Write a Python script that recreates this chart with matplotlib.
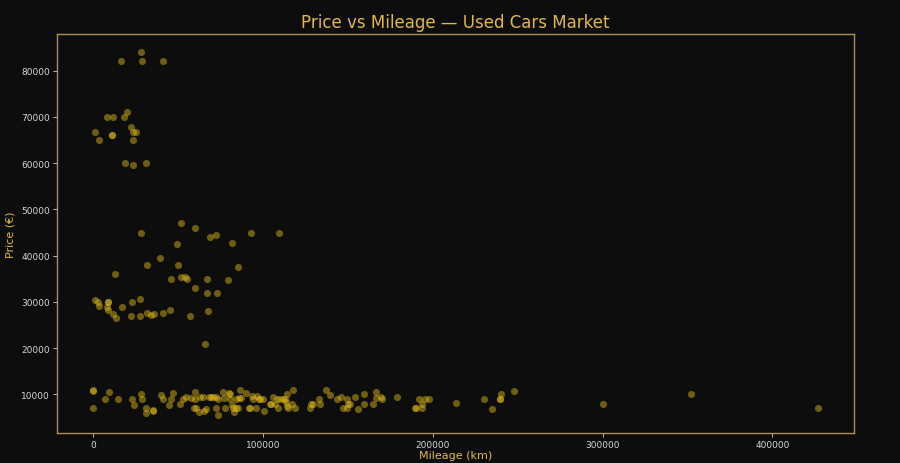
import numpy as np
import matplotlib
matplotlib.use("Agg")
import matplotlib.pyplot as plt

# values (mileage in km, price in EUR)
mileage_high = [16600, 28400, 29000, 40900,
                19700, 8100, 11700, 18000, 22300, 23500, 25000, 900, 3600, 11100, 11300, 23300,
                18700, 23300, 31100]
price_high = [82000, 84000, 82000, 82000,
              71000, 70000, 70000, 70000, 67800, 66700, 66700, 66800, 65000, 66000, 66000, 65000,
              60000, 59500, 60000]

mileage_mid = [28400, 52000, 60000, 68800, 72200, 49200, 81800, 93200, 109500,
               39400, 31900, 49800, 85100, 13100, 46100, 52000, 54100, 55100, 66900,
               79200, 60000, 66900, 73200, 67900, 57300, 65900]
price_mid = [45000, 47000, 46000, 44000, 44500, 42500, 42700, 45000, 44800,
             39500, 38000, 38000, 37600, 36000, 35000, 35400, 35300, 35000, 35000,
             34800, 33000, 32000, 32000, 28000, 27000, 21000]

mileage_low30 = [900, 3000, 3600, 8800, 8800, 8300, 8900, 11900, 13400, 17200,
                 22700, 27400, 22300, 27600, 31900, 34300, 35600, 41400, 45500]
price_low30 = [30500, 30000, 29200, 30000, 30000, 29000, 28200, 27400, 26500, 29000,
               30000, 30700, 27000, 27000, 27700, 27100, 27400, 27700, 28200]

mileage_budget = [0, 0, 0, 7200, 9300, 14800, 22700, 24000, 28200, 28800, 31300, 31300,
                  35000, 35300, 39800, 41100, 44900, 45800, 47000, 51100, 52900, 54900,
                  57800, 59700, 60200, 59400, 60800, 62300, 62700, 64700, 65300, 66300,
                  68200, 69400, 70800, 72200, 72600, 73400, 73700, 76700, 77100, 77500,
                  80200, 80800, 80400, 81800, 82400, 83000, 84000, 85400, 84200, 85600,
                  86800, 86700, 90000, 91700, 92500, 93400, 94100, 95800, 96500, 97700,
                  98500, 99900, 100600, 104000, 105000, 105900, 107100, 108500, 109100,
                  109900, 111900, 112900, 113300, 114200, 114200, 115000, 116900, 117700,
                  118700, 127500, 128100, 129700, 133000, 133600, 137000, 139700, 143400,
                  146200, 147000, 149300, 149500, 150100, 151100, 154300, 156000, 159700,
                  159700, 164600, 166400, 166400, 169400, 170000, 179000, 189800, 190400,
                  192000, 193900, 193900, 195300, 197800, 213900, 229900, 234800, 239300,
                  239300, 239900, 247900, 300000, 352000, 426800]
price_budget = [10800, 10900, 7000, 9000, 10600, 9000, 9000, 7800, 10100, 9000, 7000, 5900,
                6500, 6600, 9800, 9000, 7800, 9000, 10400, 7900, 9000, 9400,
                9200, 9100, 10600, 7000, 7000, 6300, 9400, 9400, 6500, 6800,
                9400, 9400, 9500, 7000, 9400, 9000, 5600, 10500, 9200, 7000,
                10400, 10200, 9000, 7800, 7000, 6300, 7000, 7000, 9000, 9200,
                9200, 10900, 10400, 7000, 7000, 9600, 9100, 7000, 9600, 9000,
                9100, 9000, 6400, 7900, 7900, 9500, 7900, 9000, 7000,
                9100, 9100, 9000, 8300, 10100, 7500, 7000, 7900, 10900,
                7000, 7000, 7900, 7900, 9000, 7900, 10900, 9900, 9000,
                9400, 7000, 7000, 9000, 7900, 7900, 9400, 6900, 10000,
                7900, 7900, 10500, 9300, 9400, 9000, 9400, 7000, 7000,
                9000, 7900, 7000, 9000, 9000, 8100, 9000, 6800, 9000,
                9000, 10000, 10800, 7900, 10200, 7000]

mileage = mileage_high + mileage_mid + mileage_low30 + mileage_budget
price = price_high + price_mid + price_low30 + price_budget

bg = "#0d0d0d"
gold = "#e0b84a"

plt.rcParams['font.family'] = ['DejaVu Sans']
fig = plt.figure(figsize=(9, 4.64), dpi=100, facecolor=bg)
ax = fig.add_axes([0.0633, 0.0647, 0.8857, 0.86])
ax.set_facecolor(bg)

ax.scatter(mileage, price, s=26, color="#e8c21a", alpha=0.45, linewidths=0)

ax.set_xticks([0, 100000, 200000, 300000, 400000])
ax.set_yticks([10000, 20000, 30000, 40000, 50000, 60000, 70000, 80000])
ax.tick_params(colors="#d6d6d6", labelsize=6.5, length=3, width=0.6, pad=2)
for s in ax.spines.values():
    s.set_color("#a8925a")
    s.set_linewidth(1.0)

ax.set_title("Price vs Mileage — Used Cars Market", color=gold, fontsize=12, pad=5)
ax.set_xlabel("Mileage (km)", color=gold, fontsize=8, labelpad=1)
ax.set_ylabel("Price (€)", color=gold, fontsize=8, labelpad=4)

fig.savefig("out.png", dpi=100, facecolor=bg)
